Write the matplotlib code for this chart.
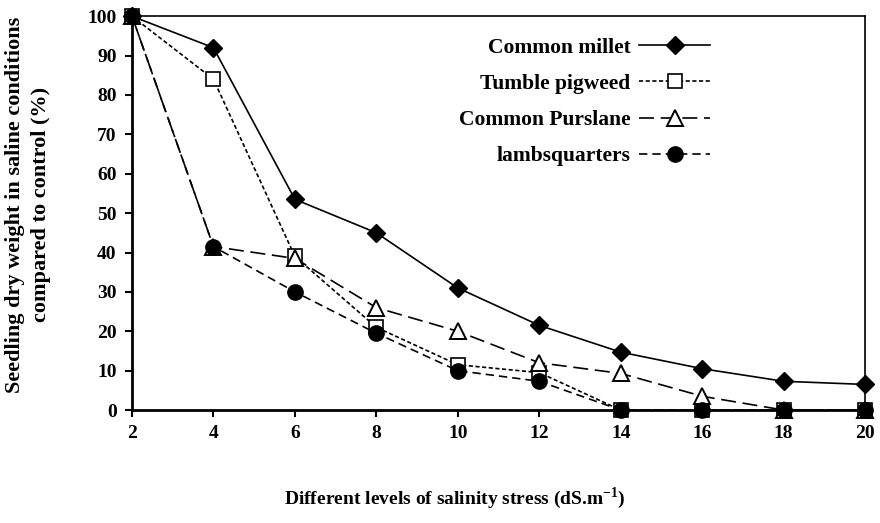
import matplotlib
matplotlib.use('Agg')
import matplotlib.pyplot as plt

# salinity levels (dS/m) and relative seedling dry weight (% of control)
salinity = [2, 4, 6, 8, 10, 12, 14, 16, 18, 20]
millet = [100, 92, 53.5, 45, 31, 21.5, 14.7, 10.5, 7.3, 6.5]
pigweed = [100, 84, 39, 21, 11.5, 9.5, 0, 0, 0, 0]
purslane = [100, 41.5, 38.5, 26, 20, 12, 9.3, 3.5, 0, 0]
lambsq = [100, 41.5, 30, 19.5, 10, 7.3, 0, 0, 0, 0]

yticks = list(range(0, 101, 10))

serif = ['Liberation Serif', 'DejaVu Serif']
plt.rcParams['font.family'] = serif
plt.rcParams['font.weight'] = 'bold'
plt.rcParams['axes.labelweight'] = 'bold'
plt.rcParams['mathtext.fontset'] = 'custom'
plt.rcParams['mathtext.rm'] = 'Liberation Serif:bold'
plt.rcParams['mathtext.bf'] = 'Liberation Serif:bold'

fig = plt.figure(figsize=(8.8, 5.23), dpi=100)
ax = fig.add_axes([0.150, 0.216, 0.833, 0.753])

ax.plot(salinity, millet, color='black', lw=1.2, ls='-', marker='D',
        ms=9, mfc='black', mec='black', label='Common millet', clip_on=False)
ax.plot(salinity, pigweed, color='black', lw=1.2, ls=(0, (2.5, 1.5)), marker='s',
        ms=10, mfc='white', mec='black', mew=1.2, label='Tumble pigweed', clip_on=False)
ax.plot(salinity, purslane, color='black', lw=1.2, ls=(0, (9, 4)), marker='^',
        ms=11, mfc='white', mec='black', mew=1.4, label='Common Purslane', clip_on=False)
ax.plot(salinity, lambsq, color='black', lw=1.2, ls=(0, (5, 3)), marker='o',
        ms=11, mfc='black', mec='black', label='lambsquarters', clip_on=False)

ax.set_xlim(2, 20)
ax.set_ylim(0, 100)
ax.set_xticks(salinity)
ax.set_yticks(yticks)
ax.tick_params(direction='out', length=5, width=1.5, labelsize=14, pad=6)
for lbl in ax.get_xticklabels() + ax.get_yticklabels():
    lbl.set_fontweight('bold')
    lbl.set_family(serif)

ax.spines['left'].set_linewidth(2)
ax.spines['bottom'].set_linewidth(2)
ax.spines['top'].set_linewidth(1.2)
ax.spines['right'].set_linewidth(1.2)

ax.set_ylabel('Seedling dry weight in saline conditions\ncompared to control (%)',
              fontsize=16, fontweight='bold', family=serif, linespacing=1.4)
ax.yaxis.set_label_coords(-0.11, 0.522)
ax.set_xlabel('Different levels of salinity stress (dS.m$^{-1}$)',
              fontsize=14, fontweight='bold', family=serif)
ax.xaxis.set_label_coords(0.44, -0.19)

leg = ax.legend(loc='upper right', bbox_to_anchor=(0.815, 0.995), frameon=False,
                markerfirst=False, handlelength=3.3, handletextpad=0.4,
                labelspacing=0.75,
                prop={'family': serif, 'weight': 'bold', 'size': 15.5})
for t in leg.get_texts():
    t.set_ha('right')

fig.savefig('out.png', dpi=100)
